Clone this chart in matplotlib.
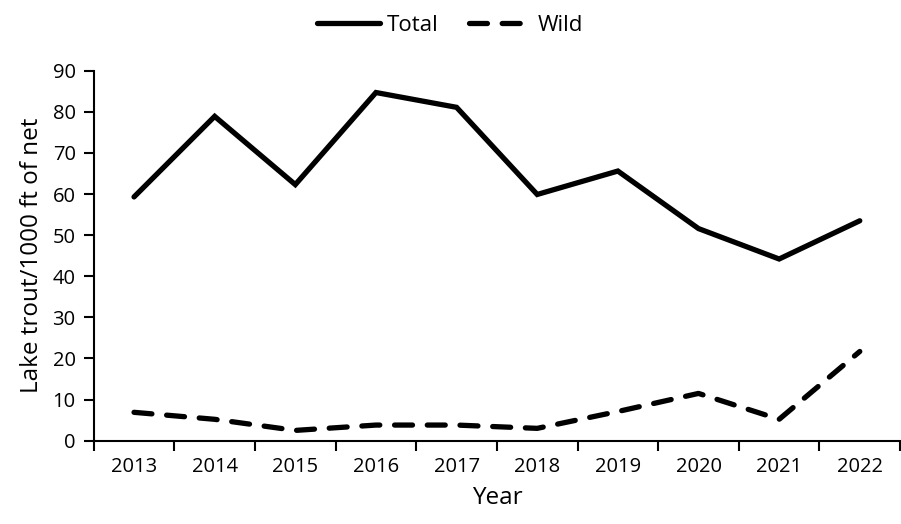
import matplotlib.pyplot as plt
import numpy as np

years = ["2013", "2014", "2015", "2016", "2017", "2018", "2019", "2020", "2021", "2022"]
total = [59.3, 78.9, 62.3, 84.7, 81.1, 59.9, 65.6, 51.6, 44.2, 53.5]
wild = [6.9, 5.2, 2.5, 3.8, 3.8, 3.0, 7.1, 11.5, 5.2, 21.7]

plt.rcParams["font.family"] = ["Open Sans", "DejaVu Sans"]

fig = plt.figure(figsize=(9.01, 5.24), dpi=100)
ax = fig.add_axes([0.104, 0.159, 0.895, 0.706])

x = np.arange(len(years))
ax.plot(x, total, color="black", linewidth=3.8, solid_capstyle="round",
        solid_joinstyle="miter", label="Total")
ax.plot(x, wild, color="black", linewidth=3.8, linestyle=(0, (3.4, 2.8)),
        dash_capstyle="round", label="Wild")

ax.set_xlim(-0.5, len(years) - 0.5)
ax.set_ylim(0, 90)
ax.set_yticks(np.arange(0, 91, 10))
ax.set_xticks(np.arange(-0.5, len(years), 1.0))
ax.set_xticklabels([])
ax.set_xticks(x, minor=True)
ax.set_xticklabels(years, minor=True)
ax.tick_params(axis="x", which="major", length=7, width=1.5, direction="out")
ax.tick_params(axis="x", which="minor", length=0, pad=12, labelsize=14.5)
ax.tick_params(axis="y", length=7, width=1.5, labelsize=14.5, pad=6)

for side in ["top", "right"]:
    ax.spines[side].set_visible(False)
for side in ["left", "bottom"]:
    ax.spines[side].set_linewidth(1.5)

ax.set_xlabel("Year", fontsize=17.5, labelpad=6)
ax.set_ylabel("Lake trout/1000 ft of net", fontsize=17.5, labelpad=6)

fig.legend(loc="upper center", bbox_to_anchor=(0.5, 1.01), ncol=2, frameon=False,
           fontsize=16, handlelength=2.8, handletextpad=0.3, columnspacing=1.4)

fig.savefig("out.png", dpi=100)
